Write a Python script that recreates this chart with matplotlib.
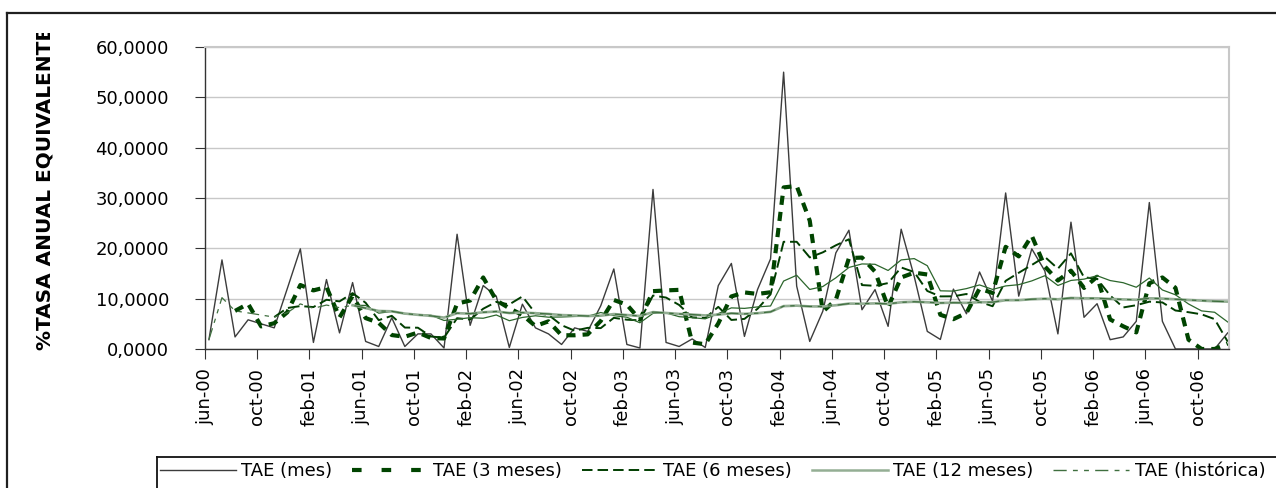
import numpy as np
import matplotlib
matplotlib.use("Agg")
import matplotlib.pyplot as plt
from matplotlib.lines import Line2D
from matplotlib.ticker import FuncFormatter
from matplotlib.transforms import Bbox, TransformedBbox

plt.rcParams['font.family'] = ['DejaVu Sans']

# monthly series, jun-00 .. dec-06 (79 months), values in %
tae_mes = [1.85, 17.7, 2.4, 5.8, 5.0, 4.2, 12.0, 19.9, 1.3, 13.8,
           3.2, 13.2, 1.5, 0.5, 6.2, 0.5, 3.0, 3.0, 0.2, 22.8,
           4.7, 12.6, 10.5, 0.3, 8.9, 4.2, 3.0, 0.9, 4.2, 3.5,
           8.6, 15.9, 0.9, 0.2, 31.7, 1.3, 0.5, 2.0, 0.3, 12.6,
           17.0, 2.5, 11.8, 17.9, 55.0, 12.5, 1.5, 7.5, 19.1, 23.6,
           7.8, 11.8, 4.5, 23.8, 14.4, 3.5, 1.9, 11.9, 7.0, 15.3,
           9.5, 31.0, 10.5, 19.9, 15.5, 3.0, 25.2, 6.3, 9.0, 1.85,
           2.4, 5.5, 29.1, 5.5, 0.0, 0.0, 0.0, 0.0, 3.2]

tae_3m = [None, None,
          7.57, 8.98, 4.49, 5.12, 7.30, 12.71, 11.64, 12.31, 6.28, 10.55,
          6.14, 5.19, 2.77, 2.43, 3.28, 2.19, 2.09, 9.02, 9.63, 14.21,
          9.67, 8.09, 6.77, 4.56, 5.50, 2.73, 2.73, 2.91, 5.57, 9.74,
          8.80, 5.82, 11.49, 11.64, 11.75, 1.28, 0.94, 5.09, 10.44, 11.24,
          10.94, 11.27, 32.1, 32.4, 25.5, 7.41, 9.78, 18.05, 18.17, 15.37,
          8.34, 14.21, 15.17, 14.8, 6.8, 5.93, 7.16, 12.0, 11.13, 20.3,
          18.4, 22.5, 16.4, 13.6, 15.56, 12.13, 14.36, 5.87, 4.51, 3.30,
          13.05, 14.21, 12.16, 1.85, 0.0, 0.0, 1.07]

tae_6m = [None] * 5 + [
          6.34, 8.14, 8.53, 8.33, 9.78, 9.46, 11.1, 9.18, 5.73, 6.59,
          4.26, 4.23, 2.48, 2.25, 6.12, 5.85, 8.0, 9.35, 8.86, 10.44,
          7.09, 6.78, 4.73, 3.64, 4.2, 4.15, 6.19, 5.82, 5.69, 10.62,
          10.22, 8.75, 6.28, 6.17, 8.37, 5.77, 5.98, 7.98, 10.86, 21.3,
          21.3, 18.2, 19.2, 20.6, 21.8, 12.7, 12.55, 13.1, 16.2, 15.28,
          11.53, 10.45, 10.47, 10.93, 9.38, 8.5, 13.54, 15.14, 16.69, 18.3,
          15.96, 19.0, 14.24, 13.96, 10.63, 8.25, 8.7, 9.4, 9.25, 7.65,
          7.31, 6.89, 5.93, 1.46]

tae_12m = [None] * 11 + [
           8.69, 8.66, 7.12, 7.46, 6.99, 6.81, 6.71, 5.67, 5.92, 6.22,
           6.11, 6.76, 5.62, 6.27, 6.6, 6.32, 6.36, 6.46, 6.5, 7.25,
           6.63, 6.31, 5.21, 7.08, 7.17, 6.42, 6.23, 5.99, 7.03, 8.17,
           8.07, 8.36, 8.55, 13.5, 14.65, 11.83, 12.41, 14.14, 16.2, 16.9,
           16.83, 15.6, 17.7, 17.96, 16.55, 11.56, 11.5, 12.0, 12.73, 11.84,
           12.53, 12.78, 13.53, 14.56, 12.62, 13.62, 13.88, 14.56, 13.6, 13.17,
           12.27, 14.1, 11.73, 10.77, 8.95, 7.57, 7.3, 5.37]

tae_hist = [1.87, 10.2, 7.57, 7.17, 6.75, 6.34, 7.22, 8.96, 8.08, 8.73,
            8.21, 8.69, 8.12, 7.56, 7.49, 7.04, 6.79, 6.58, 6.24, 7.12,
            7.02, 7.29, 7.45, 7.15, 7.23, 7.11, 6.96, 6.74, 6.66, 6.55,
            6.62, 6.94, 6.75, 6.56, 7.33, 7.16, 6.97, 6.84, 6.67, 6.83,
            7.09, 6.98, 7.11, 7.38, 8.52, 8.61, 8.46, 8.45, 8.69, 9.02,
            9.00, 9.06, 8.97, 9.28, 9.39, 9.28, 9.15, 9.20, 9.17, 9.29,
            9.30, 9.69, 9.70, 9.89, 9.99, 9.88, 10.14, 10.08, 10.07, 9.95,
            9.85, 9.78, 10.07, 10.02, 9.88, 9.74, 9.61, 9.48, 9.41]

tick_labels = ['jun-00', 'oct-00', 'feb-01', 'jun-01', 'oct-01', 'feb-02',
               'jun-02', 'oct-02', 'feb-03', 'jun-03', 'oct-03', 'feb-04',
               'jun-04', 'oct-04', 'feb-05', 'jun-05', 'oct-05', 'feb-06',
               'jun-06', 'oct-06']

series_labels = ['TAE (mes)', 'TAE (3 meses)', 'TAE (6 meses)',
                 'TAE (12 meses)', 'TAE (histórica)']

mes = np.array(tae_mes, dtype=float)
m3 = np.array(tae_3m, dtype=float)
m6 = np.array(tae_6m, dtype=float)
m12 = np.array(tae_12m, dtype=float)
hist = np.array(tae_hist, dtype=float)

# points sit a little after the month tick
x = np.arange(len(mes)) + 0.3

W, H = 1276, 488
fig = plt.figure(figsize=(W / 100, H / 100), dpi=100)
ax = fig.add_axes([205 / W, 1 - 349 / H, (1229 - 205) / W, (349 - 47) / H])

# colours / styles
c_mes = '#3c3c3c'
c_3m = '#004400'
c_6m = '#003d00'
c_12m = '#2c662c'
c_pale = '#94ae94'
c_hist = '#3f6f3f'
ls_3m = (0, (2.2, 1.7))
ls_6m = (0, (6, 2.5))
ls_hist = (0, (9.5, 4.5, 3.5, 4.5, 3.5, 4.5))

ax.plot(x, mes, color=c_mes, lw=1.0)
ax.plot(x, m3, color=c_3m, lw=3.0, ls=ls_3m)
ax.plot(x, m6, color=c_6m, lw=1.4, ls=ls_6m)
ax.plot(x, m12, color=c_12m, lw=0.9)
ax.plot(x[11:], hist[11:], color=c_pale, lw=1.9)
ax.plot(x, hist, color=c_hist, lw=0.9, ls=ls_hist)

ax.set_xlim(0, 78.4)
ax.set_ylim(0, 60)
ax.set_yticks(range(0, 61, 10))
ax.yaxis.set_major_formatter(FuncFormatter(lambda v, p: f'{v:.4f}'.replace('.', ',')))
ax.set_xticks(range(0, 4 * len(tick_labels), 4))
ax.set_xticklabels(tick_labels, rotation=90)
ax.tick_params(axis='x', direction='out', length=7, pad=6.5, labelsize=13,
               color='#333333')
ax.tick_params(axis='y', direction='out', length=7, pad=19, labelsize=13,
               color='#333333')

ax.yaxis.grid(True, color='#c8c8c8', lw=1.0)
ax.set_axisbelow(True)
for s in ['top', 'right']:
    ax.spines[s].set_color('#c8c8c8')
    ax.spines[s].set_linewidth(1.5)
for s in ['left', 'bottom']:
    ax.spines[s].set_color('#333333')
    ax.spines[s].set_linewidth(1.0)

# y label, cut off at the top as in the original
yl = fig.text(45 / W, 1 - 350 / H, '%TASA ANUAL EQUIVALENTE', rotation=90,
              ha='center', va='bottom', fontsize=14.45, fontweight='bold')
yl.set_clip_box(TransformedBbox(Bbox([[0, 0], [1, 1 - 33 / H]]), fig.transFigure))
yl.set_clip_on(True)

# outer chart frame (left and top edges visible)
fig.add_artist(Line2D([7 / W, 7 / W], [0, 1 - 13 / H], transform=fig.transFigure,
                      color='#202020', lw=1.6))
fig.add_artist(Line2D([7 / W, 1], [1 - 13 / H, 1 - 13 / H], transform=fig.transFigure,
                      color='#202020', lw=1.6))

# legend box edges
fig.add_artist(Line2D([157 / W, 1], [1 - 457 / H, 1 - 457 / H], transform=fig.transFigure,
                      color='#111111', lw=1.3))
fig.add_artist(Line2D([157 / W, 157 / W], [0, 1 - 457 / H], transform=fig.transFigure,
                      color='#111111', lw=1.3))

handles = [
    Line2D([], [], color=c_mes, lw=1.0),
    Line2D([], [], color=c_3m, lw=3.0, ls=(0, (2.3, 4.8))),
    Line2D([], [], color=c_6m, lw=1.4, ls=(0, (5.4, 2.6))),
    Line2D([], [], color=c_pale, lw=1.8),
    Line2D([], [], color=c_hist, lw=1.0, ls=ls_hist),
]
fig.legend(handles, series_labels, loc='upper left',
           bbox_to_anchor=(160 / W, 1 - 462 / H), ncol=5, frameon=False,
           fontsize=13, handlelength=4.2, handletextpad=0.3,
           columnspacing=1.1, borderaxespad=0, borderpad=0)

fig.savefig('out.png', dpi=100)
